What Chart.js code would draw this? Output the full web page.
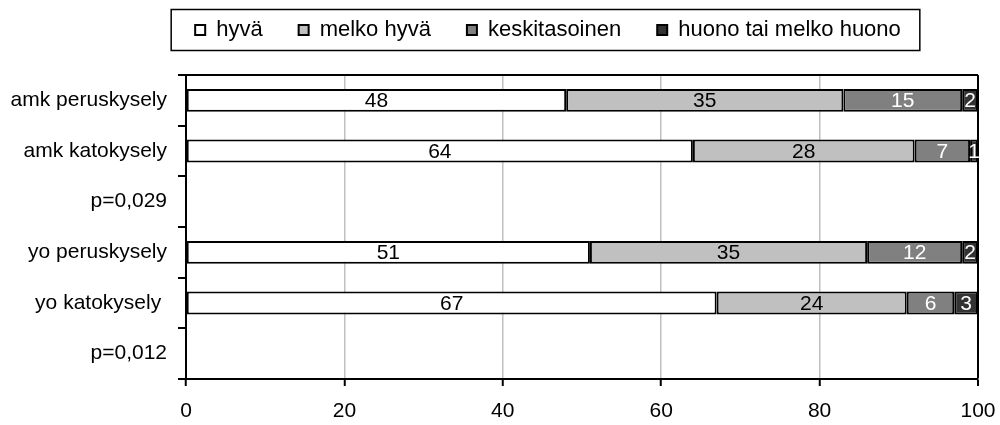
<!DOCTYPE html>
<html>
<head>
<meta charset="utf-8">
<script src="https://cdn.jsdelivr.net/npm/chart.js@4"></script>
<style>
body { margin:0; background:#fff; }
</style>
</head>
<body>
<canvas id="surveyChart" width="1000" height="425"></canvas>
<script>
// category rows (p-value rows carry no bars)
const categories = ["amk peruskysely", "amk katokysely", "p=0,029", "yo peruskysely", "yo katokysely ", "p=0,012"];
const seriesNames = ["hyvä", "melko hyvä", "keskitasoinen", "huono tai melko huono"];

// percentages per series
const hyva = [48, 64, null, 51, 67, null];
const melkoHyva = [35, 28, null, 35, 24, null];
const keskitasoinen = [15, 7, null, 12, 6, null];
const huono = [2, 1, null, 2, 3, null];

const xTicks = [0, 20, 40, 60, 80, 100];

const fillColours = ["#ffffff", "#c0c0c0", "#808080", "#333333"];
const labelColours = ["#000000", "#000000", "#ffffff", "#ffffff"];
const FONT = "'Liberation Sans', Arial, sans-serif";

function BuildDatasets()
{
	let values = [hyva, melkoHyva, keskitasoinen, huono];
	let sets = [];
	for (let i = 0; i < values.length; i++)
		sets.push({
			label: seriesNames[i],
			data: values[i],
			backgroundColor: fillColours[i],
			borderColor: "#000",
			borderWidth: 2,
			borderSkipped: false,
			categoryPercentage: 1,
			barPercentage: 0.45
		});
	return sets;
}

//writes the value in the middle of each bar segment
const barLabels = {
	id: "barLabels",
	afterDatasetsDraw(chart) {
		let ctx = chart.ctx;
		ctx.save();
		ctx.font = "21px " + FONT;
		ctx.textAlign = "center";
		ctx.textBaseline = "middle";
		chart.data.datasets.forEach((ds, d) => {
			let meta = chart.getDatasetMeta(d);
			meta.data.forEach((bar, i) => {
				if (ds.data[i] == null) return;
				ctx.fillStyle = labelColours[d];
				ctx.fillText(String(ds.data[i]), (bar.x + bar.base) / 2, bar.y + 1);
			});
		});
		ctx.restore();
	}
};

//moves the legend over the plot and puts a frame round it
const legendFrame = {
	id: "legendFrame",
	afterLayout(chart) {
		let lg = chart.legend;
		let dx = 548 - (lg.left + lg.right) / 2;
		let dy = 30 - (lg.top + lg.options.labels.padding + 11);
		lg.left += dx; lg.right += dx;
		lg.top += dy; lg.bottom += dy;
	},
	afterDraw(chart) {
		let lg = chart.legend;
		let pad = lg.options.labels.padding;
		let w = 0;
		lg.legendHitBoxes.forEach(b => w += b.width);
		w += pad * (lg.legendHitBoxes.length - 1);
		let cx = (lg.left + lg.right) / 2;
		let ctx = chart.ctx;
		ctx.save();
		ctx.strokeStyle = "#000";
		ctx.lineWidth = 1.5;
		ctx.strokeRect(cx - w / 2 - 24, 9.5, w + 43, 41);
		ctx.restore();
	}
};

new Chart("surveyChart", {
	type: "bar",
	data: { labels: categories, datasets: BuildDatasets() },
	options: {
		responsive: false,
		animation: false,
		indexAxis: "y",
		layout: { padding: { top: 7, right: 0, bottom: 1, left: 0 } },
		plugins: {
			tooltip: { enabled: false },
			legend: {
				position: "top",
				labels: {
					color: "#000",
					font: { size: 22, family: FONT },
					boxWidth: 10,
					boxHeight: 10,
					padding: 36
				}
			}
		},
		scales: {
			x: {
				stacked: true,
				min: 0,
				max: 100,
				afterBuildTicks: (s) => { s.ticks = xTicks.map(v => ({ value: v })); },
				afterFit: (s) => { s.height = 45; s.paddingRight = 22; },
				ticks: { color: "#000", font: { size: 21, family: FONT }, padding: 13 },
				grid: {
					color: (c) => c.tick && c.tick.value == 100 ? "#000" : (c.tick && c.tick.value == 0 ? "rgba(0,0,0,0)" : "#c0c0c0"),
					lineWidth: (c) => c.tick && c.tick.value == 100 ? 2 : 1.5,
					tickColor: "#000",
					tickWidth: 2,
					tickLength: 7
				},
				border: { color: "#000", width: 2 }
			},
			y: {
				stacked: true,
				afterFit: (s) => { s.width = 186; },
				ticks: { color: "#000", font: { size: 21, family: FONT }, padding: 11 },
				grid: {
					offset: true,
					color: (c) => (c.index == 0 || c.index == categories.length) ? "#000" : "rgba(0,0,0,0)",
					lineWidth: 2,
					tickColor: "#000",
					tickWidth: 2,
					tickLength: 8
				},
				border: { color: "#000", width: 2 }
			}
		}
	},
	plugins: [barLabels, legendFrame]
});
</script>
</body>
</html>
